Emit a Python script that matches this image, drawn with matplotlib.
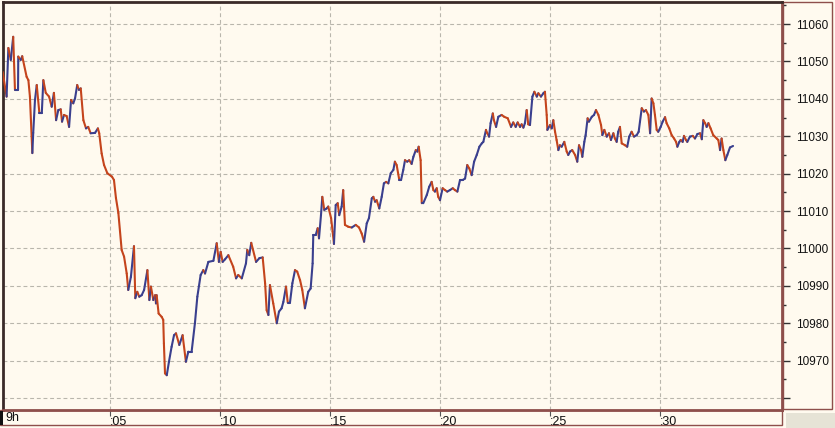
import matplotlib
matplotlib.use("Agg")
import matplotlib.pyplot as plt
import numpy as np
from matplotlib.collections import LineCollection
from matplotlib.patches import Rectangle
from matplotlib.ticker import FixedLocator, FixedFormatter

# minutes after 9h
minutes = [0.12,0.30,0.38,0.49,0.60,0.68,0.82,0.83,0.94,1.01,1.21,1.29,1.36,1.47,1.51,1.59,1.67,1.79,1.90,1.97,
 2.08,2.23,2.35,2.45,2.55,2.65,2.76,2.82,2.91,3.03,3.14,3.23,3.33,3.41,3.51,3.59,3.67,3.79,3.91,4.01,
 4.12,4.32,4.45,4.51,4.62,4.73,4.88,5.09,5.18,5.27,5.38,5.53,5.64,5.76,5.83,5.95,6.09,6.15,6.24,6.33,
 6.44,6.55,6.70,6.79,6.86,6.97,7.05,7.09,7.12,7.21,7.35,7.42,7.45,7.50,7.58,7.68,7.80,7.91,8.00,8.15,
 8.30,8.45,8.56,8.71,8.86,8.97,9.12,9.24,9.32,9.47,9.70,9.85,9.95,10.03,10.12,10.23,10.38,10.60,10.73,10.83,
 10.99,11.18,11.24,11.33,11.42,11.64,11.79,11.94,12.05,12.12,12.20,12.27,12.42,12.58,12.68,12.80,12.88,13.00,13.08,13.18,
 13.29,13.41,13.51,13.64,13.74,13.86,14.01,14.12,14.21,14.24,14.35,14.44,14.50,14.59,14.65,14.74,14.85,14.92,15.05,15.12,
 15.18,15.26,15.35,15.42,15.53,15.60,15.68,15.83,15.99,16.17,16.32,16.44,16.55,16.67,16.77,16.90,16.97,17.05,17.12,17.24,
 17.35,17.45,17.55,17.65,17.76,17.88,17.95,18.03,18.15,18.23,18.33,18.41,18.51,18.60,18.71,18.79,18.90,18.97,19.03,19.12,
 19.17,19.24,19.40,19.51,19.62,19.70,19.77,19.85,19.92,20.00,20.12,20.23,20.33,20.45,20.58,20.68,20.79,20.91,21.03,21.14,
 21.24,21.33,21.44,21.55,21.67,21.79,21.90,21.97,22.09,22.15,22.23,22.30,22.40,22.45,22.55,22.65,22.80,22.92,23.08,23.23,
 23.33,23.44,23.53,23.64,23.71,23.79,23.86,23.94,24.01,24.09,24.20,24.29,24.40,24.47,24.59,24.70,24.77,24.85,24.88,25.00,
 25.08,25.15,25.23,25.30,25.38,25.45,25.53,25.65,25.76,25.83,25.91,26.01,26.14,26.24,26.32,26.41,26.47,26.56,26.62,26.71,
 26.77,26.90,27.00,27.09,27.20,27.32,27.38,27.47,27.58,27.68,27.77,27.88,27.95,28.03,28.10,28.18,28.26,28.41,28.51,28.60,
 28.71,28.82,28.94,29.03,29.09,29.17,29.27,29.36,29.47,29.55,29.62,29.70,29.77,29.85,29.92,30.03,30.12,30.23,30.30,30.42,
 30.53,30.64,30.73,30.79,30.88,30.94,31.03,31.09,31.18,31.24,31.36,31.49,31.59,31.70,31.82,31.90,31.97,32.05,32.12,32.20,
 32.30,32.42,32.58,32.65,32.73,32.80,32.88,32.97,33.06,33.18,33.32]

prices = [11047.2,11040.6,11053.6,11050.4,11056.6,11042.4,11042.4,11051.3,11050.4,11051.4,11045.9,11045.0,11040.6,11025.5,11030.9,11039.7,11043.7,11036.2,11036.2,11045.0,
 11041.6,11040.6,11037.9,11041.6,11034.3,11037.0,11037.2,11033.9,11035.7,11035.4,11032.5,11039.7,11038.8,11040.1,11043.7,11042.4,11042.8,11034.3,11032.1,11032.5,
 11030.8,11030.9,11032.1,11030.8,11025.4,11022.3,11020.1,11019.2,11018.3,11013.5,11009.5,10999.6,10997.8,10993.3,10988.9,10992.4,11000.6,10986.7,10988.4,10987.1,
 10987.5,10988.9,10994.2,10986.2,10989.8,10986.2,10987.5,10985.3,10987.5,10982.6,10981.7,10980.9,10974.6,10966.6,10966.1,10969.7,10973.7,10976.8,10977.3,10974.2,
 10976.8,10969.7,10972.4,10972.4,10980.0,10987.1,10992.9,10994.2,10993.3,10996.4,10996.7,11001.4,10996.4,10999.1,10996.4,10997.1,10998.2,10995.1,10992.0,10992.9,
 10992.0,10996.0,10999.6,10998.2,11001.5,10996.4,10997.4,10997.6,10990.7,10983.5,10982.2,10990.2,10985.3,10980.0,10983.1,10984.0,10985.7,10989.8,10985.5,10985.5,
 10990.7,10994.2,10993.8,10991.5,10988.9,10984.0,10988.4,10989.3,10996.0,11003.6,11003.6,11005.4,11002.7,11008.9,11013.8,11010.3,11010.7,11011.2,11008.1,11004.5,
 11001.2,11011.6,11012.1,11008.9,11011.2,11015.6,11006.3,11005.8,11005.6,11006.3,11005.6,11004.0,11001.8,11006.7,11008.1,11013.4,11013.8,11012.5,11012.9,11010.7,
 11013.8,11017.4,11017.8,11017.4,11020.1,11021.0,11023.2,11022.3,11018.3,11018.3,11021.0,11023.6,11023.2,11023.6,11022.6,11024.5,11026.3,11025.9,11027.2,11023.6,
 11012.1,11012.1,11014.3,11016.5,11017.8,11015.6,11015.2,11016.1,11013.8,11012.9,11016.1,11015.6,11015.2,11015.6,11016.1,11015.6,11015.2,11018.3,11018.3,11018.7,
 11022.3,11021.4,11019.6,11023.2,11025.0,11027.2,11028.1,11028.5,11031.7,11030.8,11029.9,11033.5,11036.1,11034.3,11032.5,11035.2,11035.7,11035.2,11034.8,11032.5,
 11033.7,11032.5,11033.7,11032.5,11033.2,11032.3,11033.5,11037.0,11033.2,11033.0,11040.6,11041.9,11040.6,11041.5,11040.6,11041.5,11041.9,11035.7,11031.7,11033.0,
 11032.1,11034.3,11031.2,11029.0,11026.3,11027.6,11027.2,11028.5,11025.9,11025.0,11025.9,11026.3,11025.0,11023.2,11027.6,11026.3,11024.5,11028.5,11030.3,11034.8,
 11033.9,11035.2,11035.7,11037.0,11035.7,11033.0,11030.3,11031.7,11029.9,11030.8,11029.0,11030.8,11029.4,11028.5,11031.2,11032.5,11028.1,11027.6,11027.2,11029.9,
 11031.2,11029.9,11030.3,11031.2,11033.9,11037.5,11036.6,11037.0,11035.7,11030.8,11040.1,11038.8,11035.7,11031.7,11031.2,11032.5,11033.9,11035.1,11033.5,11032.1,
 11030.3,11029.4,11028.5,11027.2,11028.5,11029.0,11028.5,11030.1,11029.0,11028.5,11029.9,11030.1,11029.4,11030.6,11030.8,11029.2,11034.3,11033.5,11032.5,11033.5,
 11032.1,11030.3,11029.4,11029.0,11026.3,11029.4,11026.3,11023.6,11025.0,11027.0,11027.4]

x_ticks = [5, 10, 15, 20, 25, 30]
x_labels = [":05", ":10", ":15", ":20", ":25", ":30"]
first_label = "9h"
y_major = [10960, 10970, 10980, 10990, 11000, 11010, 11020, 11030, 11040, 11050, 11060]
y_labels = ["", "10970", "10980", "10990", "11000", "11010", "11020", "11030", "11040", "11050", "11060"]
y_minor = [10965, 10975, 10985, 10995, 11005, 11015, 11025, 11035, 11045, 11055, 11065]

UP = "#3a3f8e"
DOWN = "#c4441c"
BG = "#fffaef"
BROWN = "#8e4f4b"
FONT = ["Liberation Sans", "DejaVu Sans"]

W, H = 835, 428
fig = plt.figure(figsize=(W / 100, H / 100), dpi=100)
fig.patch.set_facecolor(BG)

L, R, T, B = 3, 782, 2, 410
ax = fig.add_axes([L / W, 1 - B / H, (R - L) / W, (B - T) / H])
ax.set_facecolor(BG)
ax.set_xlim(3 / 22.0, 782 / 22.0)
ax.set_ylim(10956.8, 11065.9)

t = np.array(minutes)
p = np.array(prices)
pts = np.column_stack([t, p])
segs = np.stack([pts[:-1], pts[1:]], axis=1)
cols = [UP if d >= 0 else DOWN for d in np.diff(p)]
lc = LineCollection(segs, colors=cols, linewidths=1.5, capstyle="round", joinstyle="round", zorder=3)
ax.add_collection(lc)

# grid
for v in y_major:
    ax.axhline(v, color="#b9b6ac", lw=0.8, ls=(0, (3.5, 2.5)), zorder=1)
for xv in x_ticks:
    ax.axvline(xv, color="#b9b6ac", lw=0.8, ls=(0, (3.5, 2.5)), zorder=1)

# y axis on right
ax.yaxis.tick_right()
ax.yaxis.set_major_locator(FixedLocator(y_major))
ax.yaxis.set_major_formatter(FixedFormatter(y_labels))
ax.yaxis.set_minor_locator(FixedLocator(y_minor))
ax.tick_params(axis="y", which="major", length=6, width=1, color="#333333", pad=4,
               labelsize=8.5, labelcolor="#111111")
ax.tick_params(axis="y", which="minor", length=3, width=1, color="#333333")
for lab in ax.get_yticklabels():
    lab.set_fontfamily(FONT)

# x axis
ax.set_xticks(x_ticks)
ax.set_xticklabels(x_labels, fontfamily=FONT, fontsize=9, color="#111111", ha="left")
ax.tick_params(axis="x", which="major", length=4, width=0.8, color="#555555", pad=0)
ax.text(5 / 22.0 + 0.02, -0.004, first_label, transform=ax.get_xaxis_transform(),
        ha="left", va="top", fontsize=9, fontfamily=FONT, color="#111111")

for side in ["left", "top"]:
    ax.spines[side].set_color("#3a2a28")
    ax.spines[side].set_linewidth(2)
for side in ["right", "bottom"]:
    ax.spines[side].set_color(BROWN)
    ax.spines[side].set_linewidth(2)

# frame decorations
fig.add_artist(Rectangle((0, 1 - 425 / H), 782 / W, 15 / H, transform=fig.transFigure,
                         fill=False, edgecolor=BROWN, lw=1.0, zorder=0))
fig.add_artist(Rectangle((0, 1 - 425 / H), 3 / W, 14 / H, transform=fig.transFigure,
                         facecolor="#111111", edgecolor="none"))
fig.add_artist(Rectangle((783 / W, 1 - 409 / H), 49 / W, 407 / H, transform=fig.transFigure,
                         fill=False, edgecolor=BROWN, lw=1.0, zorder=0))
fig.add_artist(Rectangle((786 / W, 0), 49 / W, 15 / H, transform=fig.transFigure,
                         facecolor="#e6e3d6", edgecolor="none"))

fig.savefig("out.png", dpi=100, facecolor=BG)
